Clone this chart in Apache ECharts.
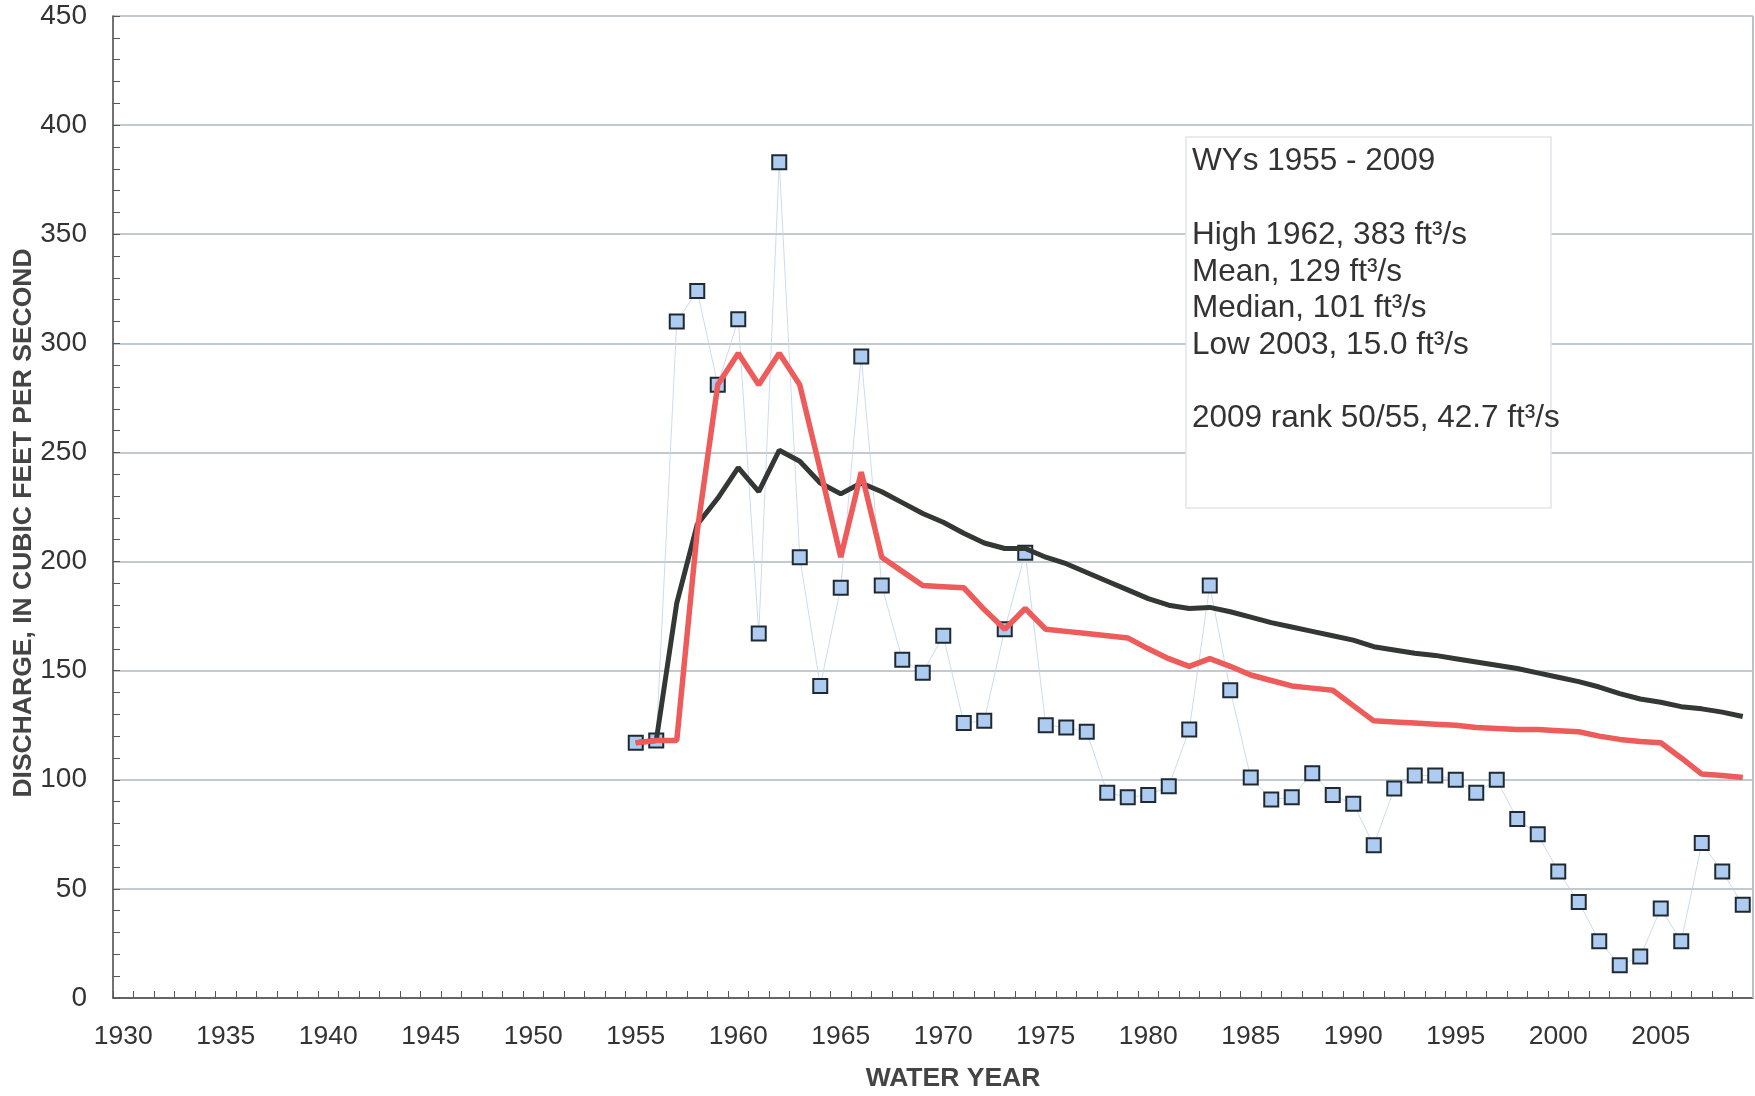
<!DOCTYPE html>
<html>
<head>
<meta charset="utf-8">
<script src="https://cdn.jsdelivr.net/npm/echarts@6/dist/echarts.min.js"></script>
</head>
<body style="margin:0;background:#fff">
<div id="container" style="width:1755px;height:1096px;"></div>
<script type="text/javascript">
// axis categories: water years 1930 - 2009
var firstAxisYear = 1930, lastAxisYear = 2009;
// record starts in 1955
var firstDataYear = 1955;

// annual mean discharge, ft3/s (blue squares)
var annual = [117, 118, 310, 324, 281, 311, 167, 383, 202, 143,
              188, 294, 189, 155, 149, 166, 126, 127, 169, 204,
              125, 124, 122, 94, 92, 93, 97, 123, 189, 141,
              101, 91, 92, 103, 93, 89, 70, 96, 102, 102,
              100, 94, 100, 82, 75, 58, 44, 26, 15, 19,
              41, 26, 71, 58, 42.7];

// cumulative mean (black line)
var cumMean = [117, 118, 181, 217, 229, 243, 232, 251, 246, 236,
               231, 236, 232, 227, 222, 218, 213, 208.5, 206, 206,
               202, 199, 195, 191, 187, 183, 180, 178.5, 179, 177,
               174.5, 172, 170, 168, 166, 164, 161, 159.5, 158, 157,
               155.5, 154, 152.5, 151, 149, 147, 145, 142.5, 139.5, 137,
               135.5, 133.5, 132.5, 131, 129];

// cumulative median (red line)
var cumMedian = [117, 118, 118, 214, 281, 295.5, 281, 295.5, 281, 242,
                 202, 241, 202, 195.5, 189, 188.5, 188, 178, 169, 178.5,
                 169, 168, 167, 166, 165, 160, 155.5, 152, 155.5, 152,
                 148, 145.5, 143, 142, 141, 134, 127, 126.5, 126, 125.5,
                 125, 124, 123.5, 123, 123, 122.5, 122, 120, 118.5, 117.5,
                 117, 110, 102.6, 102, 101];

// summary box text, with the y of each line
var boxLines = [
    'WYs 1955 - 2009',
    'High 1962, 383 ft\u00b3/s',
    'Mean, 129 ft\u00b3/s',
    'Median, 101 ft\u00b3/s',
    'Low 2003, 15.0 ft\u00b3/s',
    '2009 rank 50/55, 42.7 ft\u00b3/s'
];
var boxLineY = [161, 235, 272, 308, 345, 418];

var categories = [];
for (var y = firstAxisYear; y <= lastAxisYear; y++) categories.push(String(y));

function pairs(vals) {
    var out = [];
    for (var i = 0; i < vals.length; i++) out.push([String(firstDataYear + i), vals[i]]);
    return out;
}

var font = "'Liberation Sans', Arial, sans-serif";

var dom = document.getElementById('container');
var myChart = echarts.init(dom);

var graphics = [
    {
        type: 'line',
        shape: { x1: 1753, y1: 16, x2: 1753, y2: 998 },
        style: { stroke: '#b8c0c8', lineWidth: 2 },
        z: 5
    },
    {
        type: 'rect',
        shape: { x: 1186, y: 137, width: 365, height: 371 },
        style: { fill: '#fff', stroke: '#e2e6ea', lineWidth: 1.5 },
        z: 10
    },
    {
        type: 'text',
        x: 24,
        y: 523,
        rotation: Math.PI / 2,
        style: {
            text: 'DISCHARGE, IN CUBIC FEET PER SECOND',
            font: "bold 26.5px " + font,
            fill: '#444',
            align: 'center',
            verticalAlign: 'middle'
        },
        z: 10
    },
    {
        type: 'text',
        x: 953,
        y: 1079,
        style: {
            text: 'WATER YEAR',
            font: "bold 26.5px " + font,
            fill: '#444',
            align: 'center',
            verticalAlign: 'middle'
        },
        z: 10
    }
];
for (var i = 0; i < boxLines.length; i++) {
    graphics.push({
        type: 'text',
        x: 1192,
        y: boxLineY[i],
        style: {
            text: boxLines[i],
            font: "31.5px " + font,
            fill: '#333',
            align: 'left',
            verticalAlign: 'middle'
        },
        z: 11
    });
}

var option = {
    animation: false,
    backgroundColor: '#fff',
    grid: { left: 113, right: 2, top: 16, bottom: 98, containLabel: false },
    xAxis: {
        type: 'category',
        data: categories,
        boundaryGap: true,
        axisLine: { lineStyle: { color: '#444', width: 1.5 } },
        axisTick: { show: true, interval: 0, inside: true, length: 7, lineStyle: { color: '#555' } },
        axisLabel: { interval: 4, margin: 25, fontFamily: font, fontSize: 26.5, color: '#333' },
        splitLine: { show: false }
    },
    yAxis: {
        type: 'value',
        min: 0,
        max: 450,
        interval: 50,
        axisLine: { show: true, lineStyle: { color: '#444', width: 1.5 } },
        axisTick: { show: true, inside: true, length: 7, lineStyle: { color: '#555' } },
        minorTick: { show: true, splitNumber: 5, length: 7, lineStyle: { color: '#555' } },
        axisLabel: { margin: 26, fontFamily: font, fontSize: 28, color: '#333' },
        splitLine: { show: true, lineStyle: { color: '#c2cad0', width: 2 } }
    },
    graphic: graphics,
    series: [
        {
            name: 'Annual mean',
            type: 'line',
            data: pairs(annual),
            symbol: 'rect',
            symbolSize: 14,
            showAllSymbol: true,
            lineStyle: { color: '#bcd3ee', width: 0.8 },
            itemStyle: { color: '#aecbf1', borderColor: '#1f2a30', borderWidth: 2 },
            z: 2
        },
        {
            name: 'Cumulative mean',
            type: 'line',
            data: pairs(cumMean),
            symbol: 'none',
            lineStyle: { color: '#333835', width: 5 },
            z: 3
        },
        {
            name: 'Cumulative median',
            type: 'line',
            data: pairs(cumMedian),
            symbol: 'none',
            lineStyle: { color: '#ee5b5b', width: 5.5 },
            z: 4
        }
    ]
};

myChart.setOption(option);
</script>
</body>
</html>
